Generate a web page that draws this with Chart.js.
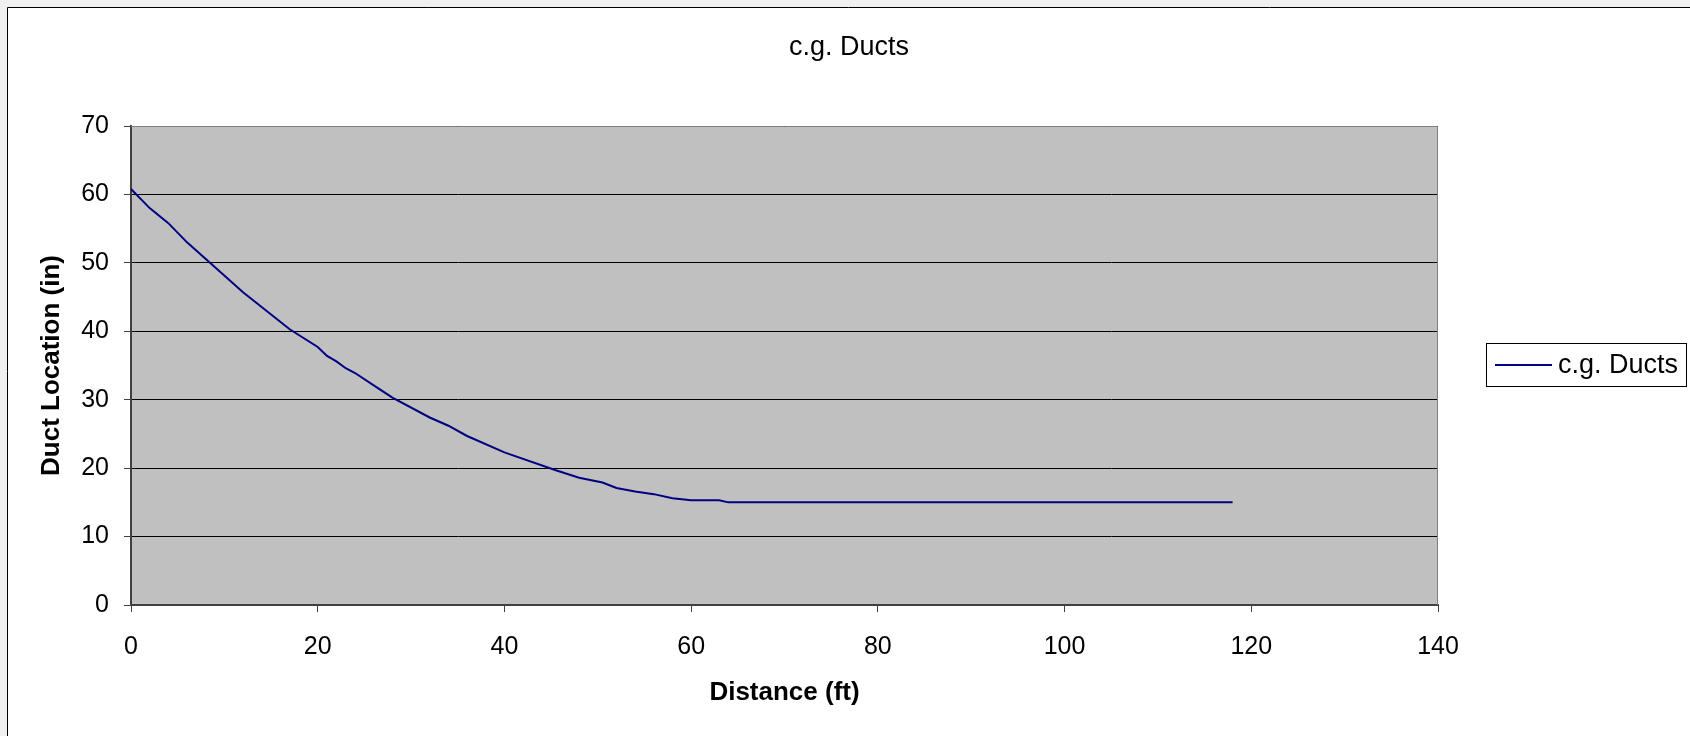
<!DOCTYPE html>
<html>
<head>
<meta charset="utf-8">
<title>c.g. Ducts</title>
<script src="https://cdn.jsdelivr.net/npm/chart.js@4/dist/chart.umd.min.js"></script>
<style>
  html, body { margin: 0; padding: 0; background: #f0f0f0; }
  canvas { display: block; }
</style>
</head>
<body>
<canvas id="chart" width="1690" height="736"></canvas>
<script>
// Distance along the member (ft) and centroid of ducts (in)
const distanceFt = [0, 2, 4, 6, 12, 14.5, 17, 20, 21, 22, 23, 24, 26, 28, 32, 34, 36, 40, 45.5, 48, 50.5, 52, 54, 56, 58, 60, 63, 64, 118];
const ductLocationIn = [60.8, 58, 55.8, 53, 45.7, 43, 40.3, 37.7, 36.4, 35.6, 34.6, 33.9, 32.1, 30.3, 27.4, 26.2, 24.7, 22.3, 19.7, 18.6, 17.9, 17.1, 16.6, 16.2, 15.6, 15.3, 15.3, 15.0, 15.0];

const seriesName = 'c.g. Ducts';
const chartTitle = 'c.g. Ducts';
const xAxisTitle = 'Distance (ft)';
const yAxisTitle = 'Duct Location (in)';

const FONT = '"Liberation Sans", Arial, Helvetica, sans-serif';

const points = distanceFt.map((x, i) => ({ x: x, y: ductLocationIn[i] }));

// Page frame, grey plot area and its border
const framePlugin = {
  id: 'frame',
  beforeDraw(chart) {
    const { ctx, width, height, chartArea: a } = chart;
    ctx.save();
    ctx.fillStyle = '#f0f0f0';
    ctx.fillRect(0, 0, width, height);
    ctx.fillStyle = '#ffffff';
    ctx.fillRect(7, 7, width - 7, height - 7);
    ctx.strokeStyle = '#000000';
    ctx.lineWidth = 1;
    ctx.beginPath();
    ctx.moveTo(7.5, height);
    ctx.lineTo(7.5, 7.5);
    ctx.lineTo(width, 7.5);
    ctx.stroke();
    ctx.fillStyle = '#c0c0c0';
    ctx.fillRect(a.left, a.top, a.right - a.left, a.bottom - a.top);
    ctx.restore();
  },
  beforeDatasetsDraw(chart) {
    const { ctx, chartArea: a } = chart;
    ctx.save();
    ctx.strokeStyle = '#808080';
    ctx.lineWidth = 1;
    ctx.beginPath();
    ctx.moveTo(a.left, a.top + 0.5);
    ctx.lineTo(a.right - 0.5, a.top + 0.5);
    ctx.lineTo(a.right - 0.5, a.bottom);
    ctx.stroke();
    ctx.restore();
  }
};

// Boxed legend to the right of the plot
const boxedLegend = {
  id: 'boxedLegend',
  afterDraw(chart) {
    const { ctx } = chart;
    const ds = chart.data.datasets[0];
    const box = { x: 1486, y: 343, w: 201, h: 44 };
    const cy = box.y + box.h / 2;
    ctx.save();
    ctx.fillStyle = '#ffffff';
    ctx.fillRect(box.x, box.y, box.w, box.h);
    ctx.strokeStyle = '#000000';
    ctx.lineWidth = 1;
    ctx.strokeRect(box.x + 0.5, box.y + 0.5, box.w - 1, box.h - 1);
    ctx.strokeStyle = ds.borderColor;
    ctx.lineWidth = ds.borderWidth;
    ctx.beginPath();
    ctx.moveTo(box.x + 9, cy);
    ctx.lineTo(box.x + 66, cy);
    ctx.stroke();
    ctx.fillStyle = '#000000';
    ctx.font = '27px ' + FONT;
    ctx.textAlign = 'left';
    ctx.textBaseline = 'middle';
    ctx.fillText(ds.label, box.x + 72, cy + 1);
    ctx.restore();
  }
};

new Chart(document.getElementById('chart'), {
  type: 'line',
  data: {
    datasets: [{
      label: seriesName,
      data: points,
      borderColor: '#000080',
      backgroundColor: '#000080',
      borderWidth: 2,
      pointRadius: 0,
      pointHoverRadius: 0,
      tension: 0,
      fill: false,
      xAxisID: 'x',
      yAxisID: 'y'
    }]
  },
  options: {
    responsive: false,
    animation: false,
    devicePixelRatio: 1,
    layout: { padding: { left: 8, right: 0, top: 0, bottom: 0 } },
    plugins: {
      legend: { display: false },
      tooltip: { enabled: false },
      title: {
        display: true,
        text: chartTitle,
        color: '#000000',
        font: { family: FONT, size: 27, weight: 'normal', lineHeight: 1.2 },
        padding: { top: 31, bottom: 62.6 }
      }
    },
    scales: {
      x: {
        type: 'linear',
        position: 'bottom',
        min: 0,
        max: 140,
        afterFit(scale) { scale.height = 131; },
        ticks: {
          stepSize: 20,
          color: '#000000',
          padding: 20,
          font: { family: FONT, size: 25, lineHeight: 1.2 },
          maxRotation: 0
        },
        grid: {
          drawOnChartArea: false,
          drawTicks: true,
          tickLength: 7,
          tickColor: '#404040'
        },
        border: { display: true, color: '#404040', width: 2 },
        title: {
          display: true,
          text: xAxisTitle,
          color: '#000000',
          font: { family: FONT, size: 26, weight: 'bold', lineHeight: 1.2 },
          padding: { top: 0, bottom: 27.4 }
        }
      },
      y: {
        type: 'linear',
        position: 'left',
        min: 0,
        max: 70,
        afterFit(scale) { scale.width = 123; },
        ticks: {
          stepSize: 10,
          color: '#000000',
          padding: 15,
          font: { family: FONT, size: 25, lineHeight: 1.2 }
        },
        grid: {
          drawOnChartArea: true,
          color: '#000000',
          lineWidth: 1,
          drawTicks: true,
          tickLength: 7,
          tickColor: '#404040'
        },
        border: { display: true, color: '#404040', width: 2 },
        title: {
          display: true,
          text: yAxisTitle,
          color: '#000000',
          font: { family: FONT, size: 26, weight: 'bold', lineHeight: 1.2 },
          padding: { top: 28.4, bottom: 0 }
        }
      },
      // empty right-hand band that holds the legend
      legendBand: {
        type: 'linear',
        position: 'right',
        min: 0,
        max: 1,
        afterFit(scale) { scale.width = 252; },
        ticks: { display: false },
        grid: { display: false, drawTicks: false },
        border: { display: false },
        title: { display: false }
      }
    }
  },
  plugins: [framePlugin, boxedLegend]
});
</script>
</body>
</html>
